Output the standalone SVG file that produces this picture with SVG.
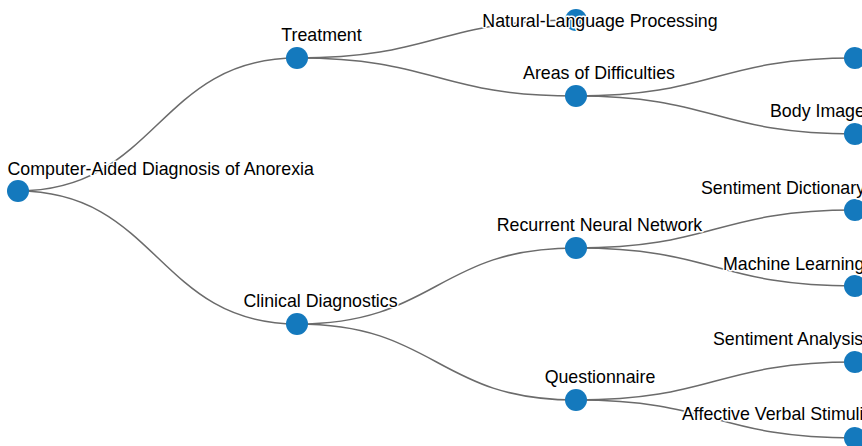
<svg xmlns="http://www.w3.org/2000/svg" width="862" height="446" viewBox="0 0 862 446">
  <style>
    .link { fill: none; stroke: #6b6b6b; stroke-width: 1.5; }
    .node circle { fill: #1479bd; }
    .node text {
      font-family: "Liberation Sans", Arial, sans-serif;
      font-size: 17.8px;
      fill: #000;
      stroke: #fff;
      stroke-width: 3px;
      stroke-linejoin: round;
      paint-order: stroke;
    }
    .mid { text-anchor: middle; }
  </style>
  <rect width="862" height="446" fill="#fff"/>

  <!-- connectors: horizontal cubic links between parent and child centres -->
  <g id="links">
    <path class="link" d="M18,191 C157.5,191 157.5,58 297,58"/>
    <path class="link" d="M18,191 C157.5,191 157.5,324 297,324"/>
    <path class="link" d="M297,58 C436.5,58 436.5,20 576,20"/>
    <path class="link" d="M297,58 C436.5,58 436.5,96 576,96"/>
    <path class="link" d="M576,96 C715.5,96 715.5,58 855,58"/>
    <path class="link" d="M576,96 C715.5,96 715.5,134 855,134"/>
    <path class="link" d="M297,324 C436.5,324 436.5,248 576,248"/>
    <path class="link" d="M297,324 C436.5,324 436.5,400 576,400"/>
    <path class="link" d="M576,248 C715.5,248 715.5,210 855,210"/>
    <path class="link" d="M576,248 C715.5,248 715.5,286 855,286"/>
    <path class="link" d="M576,400 C715.5,400 715.5,362 855,362"/>
    <path class="link" d="M576,400 C715.5,400 715.5,438 855,438"/>
  </g>

  <!-- nodes -->
  <g id="node-root" class="node">
    <circle cx="18" cy="191" r="11"/>
    <text x="7.5" y="175">Computer-Aided Diagnosis of Anorexia</text>
  </g>
  <g id="node-treatment" class="node">
    <circle cx="297" cy="58" r="11"/>
    <text class="mid" x="321.5" y="41">Treatment</text>
  </g>
  <g id="node-clinical-diagnostics" class="node">
    <circle cx="297" cy="324" r="11"/>
    <text class="mid" x="320.5" y="307">Clinical Diagnostics</text>
  </g>
  <g id="node-nlp" class="node">
    <circle cx="576" cy="20" r="11"/>
    <text class="mid" x="600" y="27">Natural-Language Processing</text>
  </g>
  <g id="node-areas-of-difficulties" class="node">
    <circle cx="576" cy="96" r="11"/>
    <text class="mid" x="599" y="79">Areas of Difficulties</text>
  </g>
  <g id="node-rnn" class="node">
    <circle cx="576" cy="248" r="11"/>
    <text class="mid" x="599.5" y="230.5">Recurrent Neural Network</text>
  </g>
  <g id="node-questionnaire" class="node">
    <circle cx="576" cy="400" r="11"/>
    <text class="mid" x="600" y="383">Questionnaire</text>
  </g>
  <g id="node-leaf-top" class="node">
    <circle cx="855" cy="58" r="11"/>
  </g>
  <g id="node-body-image" class="node">
    <circle cx="855" cy="134" r="11"/>
    <text x="770" y="117">Body Image</text>
  </g>
  <g id="node-sentiment-dictionary" class="node">
    <circle cx="855" cy="210" r="11"/>
    <text x="701" y="193.5">Sentiment Dictionary</text>
  </g>
  <g id="node-machine-learning" class="node">
    <circle cx="855" cy="286" r="11"/>
    <text x="723" y="269.5">Machine Learning</text>
  </g>
  <g id="node-sentiment-analysis" class="node">
    <circle cx="855" cy="362" r="11"/>
    <text x="713" y="344.5">Sentiment Analysis</text>
  </g>
  <g id="node-affective-verbal-stimuli" class="node">
    <circle cx="855" cy="438" r="11"/>
    <text x="682" y="419.5">Affective Verbal Stimuli</text>
  </g>
</svg>
